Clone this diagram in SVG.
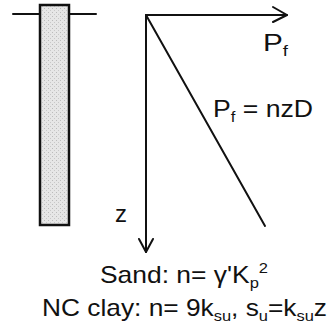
<svg xmlns="http://www.w3.org/2000/svg" width="335" height="333" viewBox="0 0 335 333">
<style>
.t{font-family:"Liberation Sans",Arial,sans-serif;font-size:24px;fill:#111}
.s{font-size:15px}
.ln{stroke:#111;stroke-width:2;fill:none;stroke-linecap:round;stroke-linejoin:round}
</style>
<defs>
<pattern id="stip" width="4" height="4" patternUnits="userSpaceOnUse">
<rect width="4" height="4" fill="#e6e6e6"/>
<rect x="0" y="0" width="1" height="1" fill="#bbb"/>
<rect x="2" y="2" width="1" height="1" fill="#c8c8c8"/>
</pattern>
</defs>
<g id="ground">
<line class="ln" x1="13" y1="14" x2="96" y2="14"/>
</g>
<g id="pile">
<rect x="40" y="5" width="29" height="220" fill="url(#stip)" stroke="#111" stroke-width="2.5"/>
</g>
<g id="connectors">
<line class="ln" x1="146" y1="15" x2="287" y2="15"/>
<polyline class="ln" points="273,7 287,15 273,22"/>
<line class="ln" x1="146" y1="15" x2="146" y2="252"/>
<polyline class="ln" points="139,239 146,252 153,239"/>
<line class="ln" x1="146" y1="15" x2="265" y2="226"/>
</g>
<g id="labels">
<text class="t" x="263" y="51" textLength="25" lengthAdjust="spacingAndGlyphs">P<tspan class="s" dy="5">f</tspan></text>
<text class="t" x="213" y="117" textLength="100" lengthAdjust="spacingAndGlyphs">P<tspan class="s" dy="5">f</tspan><tspan dy="-5"> = nzD</tspan></text>
<text class="t" x="115" y="222">z</text>
<text class="t" x="100" y="283" textLength="168" lengthAdjust="spacingAndGlyphs">Sand: n= γ'K<tspan class="s" dy="5">p</tspan><tspan class="s" dy="-15">2</tspan></text>
<text class="t" x="42" y="316" textLength="285" lengthAdjust="spacingAndGlyphs">NC clay: n= 9k<tspan class="s" dy="5">su</tspan><tspan dy="-5">, s</tspan><tspan class="s" dy="5">u</tspan><tspan dy="-5">=k</tspan><tspan class="s" dy="5">su</tspan><tspan dy="-5">z</tspan></text>
</g>
</svg>
